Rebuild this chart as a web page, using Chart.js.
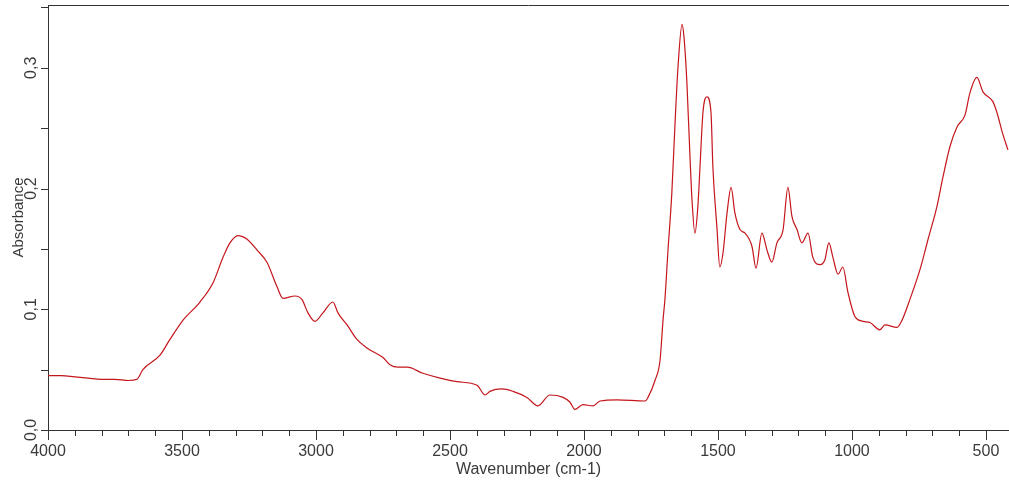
<!DOCTYPE html>
<html lang="en">
<head>
  <meta charset="UTF-8">
  <title>FTIR spectrum</title>
  <style>
    body {
      margin: 0;
      padding: 0;
      background-color: #ffffff;
    }
    #chartCanvas {
      display: block;
    }
  </style>
</head>
<body>
  <canvas id="chartCanvas" width="1009" height="483"></canvas>

  <script src="https://cdn.jsdelivr.net/npm/chart.js"></script>
  <script>
    // Data (wavenumber in cm-1, absorbance)
    const wavenumbers = [
      4000, 3950, 3900, 3850, 3800, 3750, 3700, 3668, 3646, 3582,
      3545, 3496, 3433, 3384, 3347, 3321, 3291, 3257, 3220, 3183,
      3146, 3123, 3078, 3052, 3030, 3004, 2974, 2937, 2918, 2884,
      2847, 2810, 2750, 2724, 2694, 2660, 2601, 2537, 2474, 2399,
      2369, 2351, 2306, 2265, 2213, 2172, 2127, 2078, 2052, 2034,
      2004, 1966, 1940, 1877, 1772, 1761, 1735, 1716, 1705, 1698,
      1687, 1672, 1660, 1649, 1634, 1627, 1616, 1604, 1597, 1586,
      1575, 1567, 1556, 1541, 1526, 1519, 1504, 1493, 1481, 1466,
      1451, 1437, 1418, 1399, 1373, 1358, 1336, 1317, 1299, 1280,
      1257, 1239, 1224, 1205, 1187, 1164, 1146, 1119, 1101, 1086,
      1071, 1052, 1034, 1015, 989, 959, 933, 896, 877, 832,
      813, 784, 746, 716, 683, 660, 634, 608, 578, 560,
      534, 511, 474, 459, 437, 418
    ];
    const absorbance = [
      0.045, 0.045, 0.044, 0.043, 0.042, 0.042, 0.041, 0.042, 0.050, 0.062,
      0.075, 0.091, 0.106, 0.122, 0.143, 0.155, 0.161, 0.158, 0.149, 0.139,
      0.119, 0.109, 0.111, 0.108, 0.097, 0.090, 0.097, 0.106, 0.097, 0.087,
      0.075, 0.068, 0.060, 0.054, 0.052, 0.052, 0.047, 0.043, 0.040, 0.037,
      0.029, 0.032, 0.034, 0.032, 0.027, 0.020, 0.029, 0.027, 0.023, 0.017,
      0.021, 0.020, 0.024, 0.025, 0.024, 0.027, 0.041, 0.058, 0.091, 0.108,
      0.147, 0.197, 0.255, 0.301, 0.336, 0.326, 0.288, 0.224, 0.191, 0.163,
      0.185, 0.218, 0.263, 0.276, 0.263, 0.218, 0.168, 0.135, 0.147, 0.180,
      0.201, 0.180, 0.166, 0.163, 0.152, 0.134, 0.163, 0.149, 0.139, 0.155,
      0.166, 0.201, 0.177, 0.166, 0.155, 0.163, 0.143, 0.137, 0.141, 0.155,
      0.143, 0.129, 0.135, 0.114, 0.094, 0.090, 0.089, 0.083, 0.087, 0.085,
      0.091, 0.108, 0.133, 0.158, 0.185, 0.210, 0.235, 0.251, 0.261, 0.279,
      0.292, 0.280, 0.272, 0.263, 0.245, 0.232
    ];
    const xMin = 414, xMax = 4000;
    const yMin = 0, yMax = 0.352;

    const textColor = '#3a3a3a';
    const axisColor = '#333333';

    // Tick marks, top frame line and rotated y labels
    const spectrumAxes = {
      id: 'spectrumAxes',
      afterDraw(chart) {
        const c = chart.ctx;
        const area = chart.chartArea;
        const xs = chart.scales.x;
        const ys = chart.scales.y;
        c.save();
        c.strokeStyle = axisColor;
        c.lineWidth = 1;

        // top frame
        c.beginPath();
        c.moveTo(area.left, area.top + 0.5);
        c.lineTo(area.right, area.top + 0.5);
        c.stroke();

        // x ticks: every 100, longer every 500
        xs.ticks.forEach(t => {
          const px = Math.round(xs.getPixelForValue(t.value)) + 0.5;
          const len = t.value % 500 === 0 ? 10 : 6;
          c.beginPath();
          c.moveTo(px, area.bottom);
          c.lineTo(px, area.bottom + len);
          c.stroke();
        });

        // y ticks every 0.05
        ys.ticks.forEach(t => {
          const py = Math.round(ys.getPixelForValue(t.value)) + 0.5;
          c.beginPath();
          c.moveTo(area.left - 7, py);
          c.lineTo(area.left, py);
          c.stroke();
        });

        // y labels rotated, comma decimal
        c.fillStyle = textColor;
        c.font = '16px "Liberation Sans", Arial, sans-serif';
        c.textAlign = 'center';
        c.textBaseline = 'middle';
        ys.ticks.forEach(t => {
          const v = Math.round(t.value * 100);
          if (v % 10 !== 0) return;
          const py = ys.getPixelForValue(t.value);
          c.save();
          c.translate(area.left - 16, py);
          c.rotate(-Math.PI / 2);
          c.fillText((v / 100).toFixed(1).replace('.', ','), 0, 0);
          c.restore();
        });
        c.restore();
      }
    };

    const chartCtx = document.getElementById('chartCanvas').getContext('2d');
    const myChart = new Chart(chartCtx, {
      type: 'line',
      data: {
        datasets: [{
          label: 'Absorbance',
          data: wavenumbers.map((w, i) => ({ x: w, y: absorbance[i] })),
          borderColor: '#c4161c',
          borderWidth: 1.2,
          pointRadius: 0,
          fill: false,
          cubicInterpolationMode: 'monotone'
        }]
      },
      options: {
        responsive: false,
        animation: false,
        devicePixelRatio: 1,
        layout: { padding: { top: 5, right: 0, bottom: 0, left: 0 } },
        plugins: {
          legend: { display: false },
          tooltip: { enabled: false }
        },
        scales: {
          x: {
            type: 'linear',
            reverse: true,
            min: xMin,
            max: xMax,
            afterFit(scale) { scale.height = 53; },
            border: { display: true, color: axisColor, width: 1 },
            grid: {
              display: true,
              drawOnChartArea: false,
              drawTicks: true,
              tickLength: 10,
              tickColor: 'rgba(0,0,0,0)'
            },
            ticks: {
              stepSize: 100,
              includeBounds: false,
              autoSkip: false,
              maxRotation: 0,
              padding: 2,
              color: textColor,
              font: { family: '"Liberation Sans", Arial, sans-serif', size: 16 },
              callback: v => (v % 500 === 0 ? String(v) : '')
            },
            title: {
              display: true,
              text: 'Wavenumber (cm-1)',
              color: textColor,
              font: { family: '"Liberation Sans", Arial, sans-serif', size: 16 },
              padding: { top: 0, bottom: 4 }
            }
          },
          y: {
            min: yMin,
            max: yMax,
            afterFit(scale) { scale.width = 48; },
            border: { display: true, color: axisColor, width: 1 },
            grid: { display: false },
            ticks: {
              stepSize: 0.05,
              includeBounds: false,
              display: false
            },
            title: {
              display: true,
              text: 'Absorbance',
              color: textColor,
              font: { family: '"Liberation Sans", Arial, sans-serif', size: 15 },
              padding: { top: 10, bottom: 0 }
            }
          }
        }
      },
      plugins: [spectrumAxes]
    });
  </script>
</body>
</html>
